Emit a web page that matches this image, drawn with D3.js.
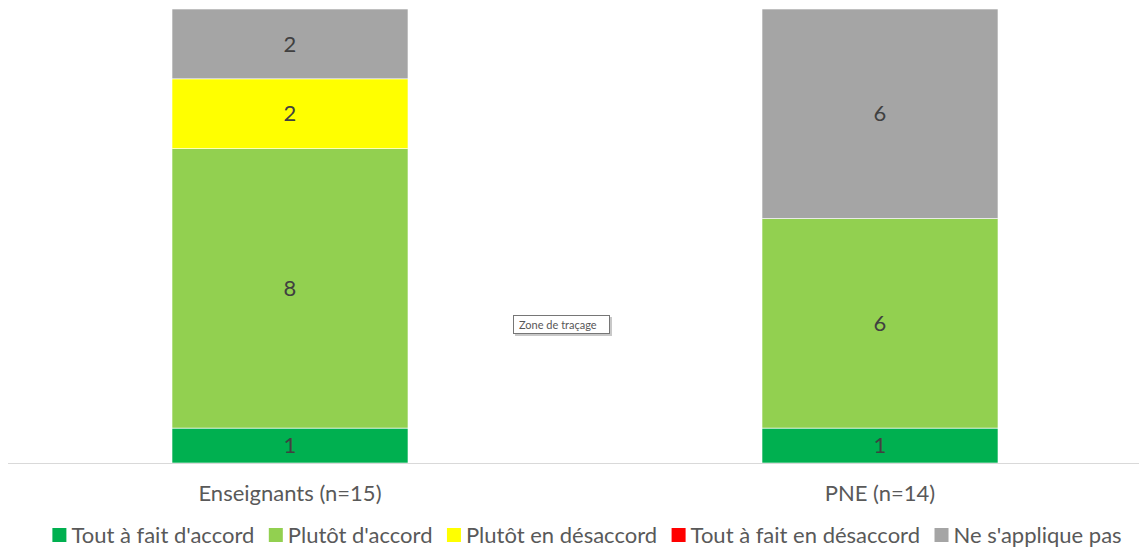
<!DOCTYPE html>
<html>
<head>
<meta charset="utf-8">
<script src="https://cdn.jsdelivr.net/npm/d3@7"></script>
<style>
  body { margin: 0; background: #fff; }
  svg { display: block; font-family: Lato, 'Noto Sans', sans-serif; }
</style>
</head>
<body>
<div id="chart"></div>
<script>
// categories and series
const categories = ['Enseignants (n=15)', 'PNE (n=14)']
const seriesNames = ["Tout à fait d'accord", "Plutôt d'accord", 'Plutôt en désaccord', 'Tout à fait en désaccord', "Ne s'applique pas"]
const toutAccord = [1, 1]
const plutotAccord = [8, 6]
const plutotDesaccord = [2, 0]
const toutDesaccord = [0, 0]
const nsp = [2, 6]
const colors = ['#00b050', '#92d050', '#ffff00', '#ff0000', '#a5a5a5']

let width = 1139
let height = 548
let fontSize = 22

let svg = d3.select('#chart')
  .append('svg')
  .attr('width', width)
  .attr('height', height)

let rows = categories.map((c, i) => ({
  cat: c,
  s0: toutAccord[i],
  s1: plutotAccord[i],
  s2: plutotDesaccord[i],
  s3: toutDesaccord[i],
  s4: nsp[i]
}))

let keys = ['s0', 's1', 's2', 's3', 's4']
let stacked = d3.stack().keys(keys)(rows)

let x = d3.scaleBand()
  .domain(categories)
  .range([-5, 1175])
  .paddingInner(0.6)
  .paddingOuter(0.3)

let y = d3.scaleLinear()
  .domain([0, 13])
  .range([463, 9])

// segments
let layers = svg.append('g')
  .selectAll('g')
  .data(stacked)
  .enter()
  .append('g')
  .attr('fill', (d, i) => colors[i])

layers.selectAll('rect')
  .data(d => d.filter(p => p[1] - p[0] > 0))
  .enter()
  .append('rect')
  .attr('x', d => x(d.data.cat))
  .attr('y', d => y(d[1]))
  .attr('width', x.bandwidth())
  .attr('height', d => y(d[0]) - y(d[1]))
  .attr('stroke', '#fff')
  .attr('stroke-width', 0.6)

// value labels
layers.selectAll('text')
  .data(d => d.filter(p => p[1] - p[0] > 0))
  .enter()
  .append('text')
  .attr('x', d => x(d.data.cat) + x.bandwidth() / 2)
  .attr('y', d => (y(d[0]) + y(d[1])) / 2)
  .attr('dy', '0.35em')
  .attr('text-anchor', 'middle')
  .attr('fill', '#404040')
  .attr('font-size', fontSize)
  .text(d => d[1] - d[0])

// axis line
svg.append('line')
  .attr('x1', 8)
  .attr('x2', 1139)
  .attr('y1', 463.5)
  .attr('y2', 463.5)
  .attr('stroke', '#d9d9d9')
  .attr('stroke-width', 1)

// category labels
svg.append('g')
  .selectAll('text')
  .data(categories)
  .enter()
  .append('text')
  .attr('x', d => x(d) + x.bandwidth() / 2)
  .attr('y', 501)
  .attr('text-anchor', 'middle')
  .attr('fill', '#595959')
  .attr('font-size', fontSize)
  .text(d => d)

// legend
let legend = svg.append('g')
let items = legend.selectAll('g')
  .data(seriesNames)
  .enter()
  .append('g')

items.append('rect')
  .attr('width', 14)
  .attr('height', 14)
  .attr('y', -15)
  .attr('fill', (d, i) => colors[i])

items.append('text')
  .attr('x', 19)
  .attr('fill', '#595959')
  .attr('font-size', fontSize)
  .text(d => d)

let pos = 0
let gap = 14.5
items.each(function() {
  let w = this.getBBox().width
  d3.select(this).attr('data-x', pos)
  pos += w + gap
})
let total = pos - gap
let start = 587 - total / 2
items.attr('transform', function() {
  return `translate(${start + +d3.select(this).attr('data-x')}, 543)`
})

// "Zone de traçage" tooltip
let tip = svg.append('g').attr('transform', 'translate(513, 315)')
tip.append('rect')
  .attr('x', 2).attr('y', 2)
  .attr('width', 97).attr('height', 19)
  .attr('fill', '#c8c8c8')
tip.append('rect')
  .attr('x', 0.5).attr('y', 0.5)
  .attr('width', 96).attr('height', 18)
  .attr('fill', '#fff')
  .attr('stroke', '#767676')
tip.append('text')
  .attr('x', 6).attr('y', 13.5)
  .attr('font-size', 11)
  .attr('fill', '#575757')
  .text('Zone de traçage')
</script>
</body>
</html>
